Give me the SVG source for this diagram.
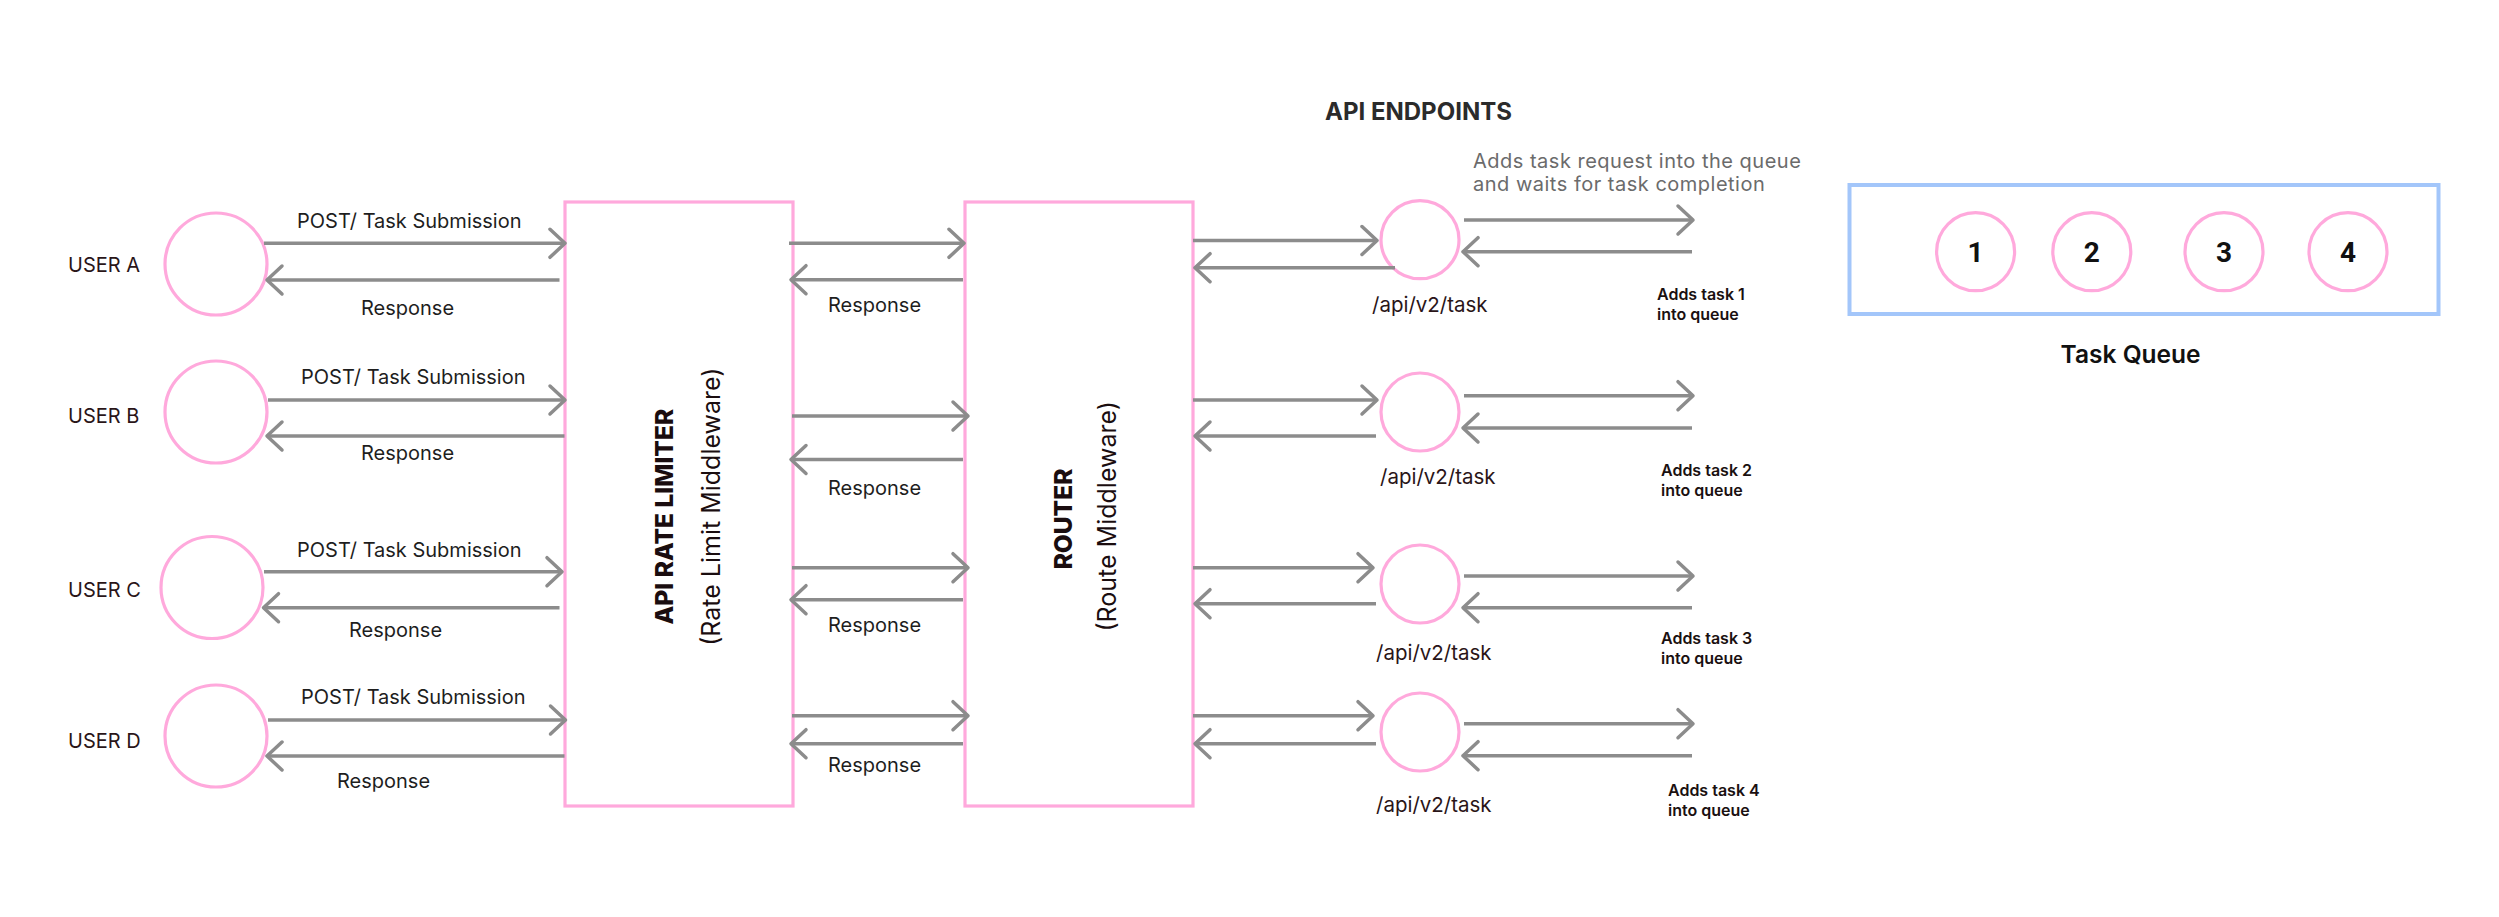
<svg xmlns="http://www.w3.org/2000/svg" width="2499" height="917" viewBox="0 0 2499 917">
<style>
text{font-family:Inter,"Liberation Sans",sans-serif;}
.lbl{font-size:20px;fill:#1e1e1e;}
.usr{font-size:20px;fill:#2a1518;}
.ep{font-size:20.5px;fill:#2a1518;}
.add{font-size:16px;font-weight:600;fill:#1a1010;}
.desc{font-size:20px;fill:#6b6b6b;letter-spacing:0.5px;}
.title{font-size:24px;font-weight:700;fill:#2b2b2b;}
.btitle{font-size:24.5px;font-weight:800;fill:#1a0d0f;}
.bsub{font-size:25px;fill:#1a0d0f;}
.num{font-size:28px;font-weight:700;fill:#111;font-family:Roboto,"Liberation Sans",sans-serif;}
.tq{font-size:24.5px;font-weight:600;fill:#111;}
.pc{fill:#fff;stroke:#ffa9dc;stroke-width:3.2;}
.pb{fill:#fff;stroke:#ffa9dc;stroke-width:3.2;}
.conn line{stroke:#8c8c8c;stroke-width:3.5;marker-end:url(#ah);}
</style>
<defs>
<marker id="ah" viewBox="-18 -17 21 34" refX="0" refY="0" markerWidth="21" markerHeight="34" markerUnits="userSpaceOnUse" orient="auto">
<path d="M-15,-14 L0,0 L-15,14" fill="none" stroke="#8c8c8c" stroke-width="3.5" stroke-linecap="round" stroke-linejoin="round"/>
</marker>
</defs>
<rect width="2499" height="917" fill="#fff"/>

<g id="userA"><circle class="pc" cx="216" cy="264" r="51"/><text class="usr" x="68" y="272">USER A</text></g>
<g id="userB"><circle class="pc" cx="216" cy="412" r="51"/><text class="usr" x="68" y="423">USER B</text></g>
<g id="userC"><circle class="pc" cx="212" cy="587.5" r="51"/><text class="usr" x="68" y="597">USER C</text></g>
<g id="userD"><circle class="pc" cx="216" cy="736" r="51"/><text class="usr" x="68" y="748">USER D</text></g>

<g id="rateLimiter"><rect class="pb" x="565" y="202" width="228" height="604"/>
<text class="btitle" text-anchor="middle" transform="translate(673,516.7) rotate(-90)">API RATE LIMITER</text>
<text class="bsub" text-anchor="middle" transform="translate(719.5,506.7) rotate(-90)">(Rate Limit Middleware)</text></g>

<g id="router"><rect class="pb" x="965" y="202" width="228" height="604"/>
<text class="btitle" text-anchor="middle" transform="translate(1072,519) rotate(-90)">ROUTER</text>
<text class="bsub" text-anchor="middle" transform="translate(1116,516.3) rotate(-90)">(Route Middleware)</text></g>

<g id="endpointsTitle"><text class="title" x="1325" y="120">API ENDPOINTS</text>
<text class="desc" x="1473" y="168">Adds task request into the queue</text>
<text class="desc" x="1473" y="191">and waits for task completion</text></g>

<g id="ep1"><circle class="pc" cx="1420" cy="239.7" r="39"/><text class="ep" x="1372" y="312">/api/v2/task</text></g>
<g id="ep2"><circle class="pc" cx="1420" cy="412" r="39"/><text class="ep" x="1380" y="484">/api/v2/task</text></g>
<g id="ep3"><circle class="pc" cx="1420" cy="584" r="39"/><text class="ep" x="1376" y="660">/api/v2/task</text></g>
<g id="ep4"><circle class="pc" cx="1420" cy="732" r="39"/><text class="ep" x="1376" y="812">/api/v2/task</text></g>

<g id="taskQueue"><rect x="1849.5" y="185" width="589" height="129" fill="#fff" stroke="#a3c6fa" stroke-width="4"/>
<circle class="pc" cx="1975.6" cy="251.7" r="39"/><text class="num" x="1975.6" y="262" text-anchor="middle">1</text>
<circle class="pc" cx="2091.8" cy="251.7" r="39"/><text class="num" x="2091.8" y="262" text-anchor="middle">2</text>
<circle class="pc" cx="2224" cy="251.7" r="39"/><text class="num" x="2224" y="262" text-anchor="middle">3</text>
<circle class="pc" cx="2348" cy="251.7" r="39"/><text class="num" x="2348" y="262" text-anchor="middle">4</text>
<text class="tq" x="2130.6" y="363" text-anchor="middle">Task Queue</text></g>

<g id="connectors" class="conn">
<line x1="264" y1="243.3" x2="565" y2="243.3"/>
<line x1="559.5" y1="280" x2="267" y2="280"/>
<line x1="268" y1="400" x2="565" y2="400"/>
<line x1="564.5" y1="436" x2="267" y2="436"/>
<line x1="264" y1="571.7" x2="562" y2="571.7"/>
<line x1="559.5" y1="607.7" x2="263.5" y2="607.7"/>
<line x1="268" y1="720" x2="565.5" y2="720"/>
<line x1="564.5" y1="756" x2="267" y2="756"/>

<line x1="789" y1="243.3" x2="964" y2="243.3"/>
<line x1="963" y1="279.7" x2="791" y2="279.7"/>
<line x1="792" y1="416" x2="968" y2="416"/>
<line x1="963" y1="459.5" x2="791" y2="459.5"/>
<line x1="792" y1="567.7" x2="968" y2="567.7"/>
<line x1="963" y1="599.7" x2="791" y2="599.7"/>
<line x1="792" y1="715.7" x2="968" y2="715.7"/>
<line x1="963" y1="743.7" x2="791" y2="743.7"/>

<line x1="1193" y1="240.5" x2="1377" y2="240.5"/>
<line x1="1395" y1="267.7" x2="1195" y2="267.7"/>
<line x1="1193" y1="400" x2="1377" y2="400"/>
<line x1="1376" y1="436" x2="1195" y2="436"/>
<line x1="1193" y1="567.7" x2="1373" y2="567.7"/>
<line x1="1376" y1="603.7" x2="1195" y2="603.7"/>
<line x1="1193" y1="715.7" x2="1373" y2="715.7"/>
<line x1="1376" y1="743.7" x2="1195" y2="743.7"/>

<line x1="1464" y1="220" x2="1693" y2="220"/>
<line x1="1692" y1="251.7" x2="1463" y2="251.7"/>
<line x1="1464" y1="395.7" x2="1693" y2="395.7"/>
<line x1="1692" y1="428" x2="1463" y2="428"/>
<line x1="1464" y1="576" x2="1693" y2="576"/>
<line x1="1692" y1="607.7" x2="1463" y2="607.7"/>
<line x1="1464" y1="723.7" x2="1693" y2="723.7"/>
<line x1="1692" y1="755.7" x2="1463" y2="755.7"/>
</g>

<g id="connectorLabels">
<text class="lbl" x="297" y="228">POST/ Task Submission</text>
<text class="lbl" x="361" y="315">Response</text>
<text class="lbl" x="301" y="384">POST/ Task Submission</text>
<text class="lbl" x="361" y="460">Response</text>
<text class="lbl" x="297" y="557">POST/ Task Submission</text>
<text class="lbl" x="349" y="637">Response</text>
<text class="lbl" x="301" y="704">POST/ Task Submission</text>
<text class="lbl" x="337" y="788">Response</text>
<text class="lbl" x="828" y="312">Response</text>
<text class="lbl" x="828" y="495">Response</text>
<text class="lbl" x="828" y="632">Response</text>
<text class="lbl" x="828" y="772">Response</text>
<text class="add" x="1657" y="300">Adds task 1</text><text class="add" x="1657" y="320">into queue</text>
<text class="add" x="1661" y="476">Adds task 2</text><text class="add" x="1661" y="496">into queue</text>
<text class="add" x="1661" y="644">Adds task 3</text><text class="add" x="1661" y="664">into queue</text>
<text class="add" x="1668" y="796">Adds task 4</text><text class="add" x="1668" y="816">into queue</text>
</g>
</svg>
